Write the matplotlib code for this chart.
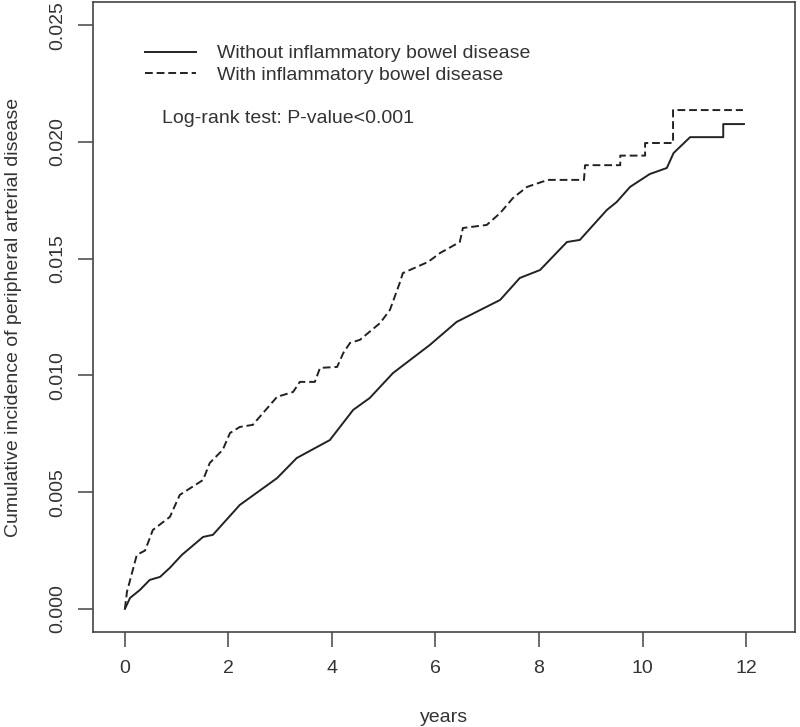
import matplotlib
matplotlib.use("Agg")
import matplotlib.pyplot as plt

# cumulative incidence
solid_years = [0, 0.1, 0.29, 0.48, 0.68, 0.87, 1.1, 1.51, 1.7, 2.22, 2.94, 3.32,
               3.96, 4.41, 4.73, 5.18, 5.89, 6.41, 7.25, 7.63, 8.02, 8.54, 8.79,
               9.31, 9.5, 9.76, 10.14, 10.47, 10.6, 10.92, 11.56, 11.56, 11.96]
solid_vals = [0, 0.00047, 0.00081, 0.00124, 0.00137, 0.00176, 0.00231, 0.00308,
              0.00317, 0.00445, 0.0056, 0.00646, 0.00723, 0.00852, 0.00903,
              0.0101, 0.0113, 0.01229, 0.01323, 0.01417, 0.01451, 0.01571,
              0.0158, 0.01708, 0.01742, 0.01807, 0.01862, 0.01888, 0.01952,
              0.0202, 0.0202, 0.02076, 0.02076]

dashed_years = [0, 0.04, 0.23, 0.39, 0.54, 0.87, 1.06, 1.51, 1.64, 1.89, 2.03,
                2.22, 2.47, 2.94, 3.25, 3.38, 3.67, 3.77, 4.1, 4.22, 4.35, 4.54,
                4.93, 5.12, 5.31, 5.37, 5.86, 6.09, 6.47, 6.53, 6.99, 7.25, 7.5,
                7.77, 8.17, 8.87, 8.89, 9.57, 9.57, 10.05, 10.05, 10.59, 10.59,
                11.94]
dashed_vals = [0, 0.00073, 0.00231, 0.0025, 0.00338, 0.00394, 0.00488, 0.00552,
               0.00625, 0.00681, 0.00753, 0.00779, 0.00788, 0.00908, 0.00929,
               0.00972, 0.00972, 0.01032, 0.01036, 0.01096, 0.01139, 0.01152,
               0.01224, 0.0128, 0.01396, 0.01438, 0.01486, 0.01524, 0.01571,
               0.01631, 0.01644, 0.01695, 0.0176, 0.01807, 0.01837, 0.01837,
               0.019, 0.019, 0.01941, 0.01941, 0.01995, 0.01995, 0.02136,
               0.02136]

x_ticks = [0, 2, 4, 6, 8, 10, 12]
y_ticks = [0.000, 0.005, 0.010, 0.015, 0.020, 0.025]
labels = ["Without inflammatory bowel disease", "With inflammatory bowel disease"]

plt.rcParams["font.family"] = ["Liberation Sans", "DejaVu Sans"]
FS = 14
INK = "#222222"
TXT = "#333333"

fig = plt.figure(figsize=(8.0, 7.27), dpi=100)
ax = fig.add_axes([0.116, 0.131, 0.878, 0.866])

ax.plot(solid_years, solid_vals, color=INK, lw=1.4, label=labels[0])
ax.plot(dashed_years, dashed_vals, color=INK, lw=1.4, linestyle=(0, (4, 2)),
        label=labels[1])

ax.set_xlim(-0.62, 12.95)
ax.set_ylim(-0.00098, 0.02598)
ax.set_xticks(x_ticks)
ax.set_xticklabels([str(t) for t in x_ticks], fontsize=FS, color=TXT)
ax.set_yticks(y_ticks)
ax.set_yticklabels([f"{t:.3f}" for t in y_ticks], fontsize=FS, color=TXT,
                   rotation=90, va="center")
ax.tick_params(axis="both", direction="out", length=11, width=1.1,
               color="#444444")
ax.tick_params(axis="x", pad=9)
ax.tick_params(axis="y", pad=8)
for sp in ax.spines.values():
    sp.set_color("#444444")
    sp.set_linewidth(1.2)

ax.set_ylabel("Cumulative incidence of peripheral arterial disease",
              fontsize=FS, color=TXT, labelpad=20)
# R-style axis title sitting right at the bottom edge
fig.text(0.555, 0.007, "years", fontsize=FS, color=TXT, ha="center",
         va="baseline")

ax.legend(loc="upper left", bbox_to_anchor=(0.05, 0.96), frameon=False,
          fontsize=FS, handlelength=2.6, handletextpad=1.1, labelspacing=0.2,
          labelcolor=TXT)
ax.text(0.098, 0.815, "Log-rank test: P-value<0.001", transform=ax.transAxes,
        fontsize=FS, color=TXT, va="center")

fig.savefig("out.png", dpi=100)
